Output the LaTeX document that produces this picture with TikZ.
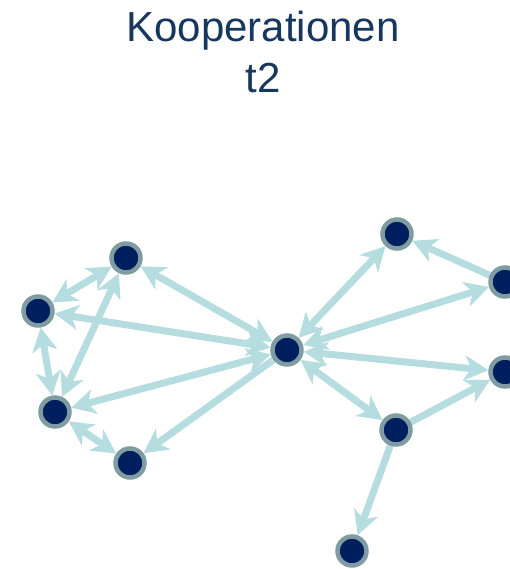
\documentclass[tikz,border=0pt]{standalone}
\usepackage{fontspec}
\setmainfont{Liberation Sans}
\usetikzlibrary{arrows.meta,backgrounds}
\definecolor{navy}{HTML}{001F5F}
\definecolor{ringc}{HTML}{7F9CA3}
\definecolor{edgec}{HTML}{B5DDE0}
\definecolor{titlec}{HTML}{17375E}
\tikzset{
  actor/.style={circle,fill=navy,draw=ringc,line width=4.5pt,minimum size=29pt,inner sep=0pt,outer sep=2.25pt},
  link/.style={draw=edgec,line width=7pt,shorten >=0pt,shorten <=0pt},
  tip/.tip={Stealth[length=24pt,width=25pt,inset=7pt,color=edgec]},
}
\begin{document}
\begin{tikzpicture}[x=1pt,y=-1pt]
\useasboundingbox (0,0) rectangle (509,569);
\node[text=titlec,font=\fontsize{42}{51}\selectfont,align=center,anchor=base] (title) at (263,93) {Kooperationen\\t2};
\node[actor] (A) at (126,258) {};
\node[actor] (B) at (38,311) {};
\node[actor] (C) at (55,412) {};
\node[actor] (D) at (130,463) {};
\node[actor] (E) at (287,350) {};
\node[actor] (F) at (397,234) {};
\node[actor] (G) at (505,282) {};
\node[actor] (H) at (505,372) {};
\node[actor] (I) at (396,430) {};
\node[actor] (J) at (352,551) {};
\begin{scope}[on background layer]
\draw[link,{tip}-{tip}] (A) -- (B);
\draw[link,{tip}-{tip}] (B) -- (C);
\draw[link,{tip}-{tip}] (C) -- (A);
\draw[link,{tip}-{tip}] (C) -- (D);
\draw[link,{tip}-{tip}] (E) -- (A);
\draw[link,{tip}-{tip}] (E) -- (B);
\draw[link,{tip}-{tip}] (E) -- (C);
\draw[link,-{tip}] (E) -- (D);
\draw[link,{tip}-{tip}] (E) -- (F);
\draw[link,{tip}-{tip}] (E) -- (G);
\draw[link,{tip}-{tip}] (E) -- (H);
\draw[link,{tip}-{tip}] (E) -- (I);
\draw[link,-{tip}] (G) -- (F);
\draw[link,-{tip}] (I) -- (H);
\draw[link,-{tip}] (I) -- (J);
\end{scope}
\end{tikzpicture}
\end{document}
